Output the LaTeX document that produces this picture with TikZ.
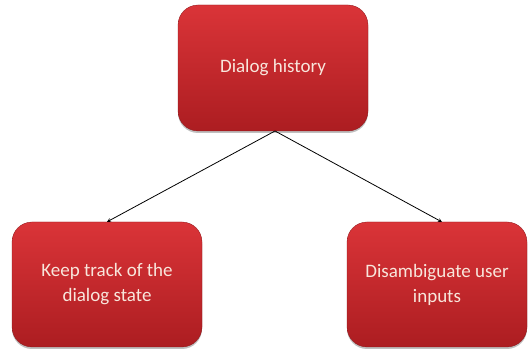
\documentclass[tikz,border=0pt]{standalone}
\usepackage{fontspec}
\setmainfont{Carlito}
\usetikzlibrary{shadows}
\definecolor{boxtop}{HTML}{DA3438}
\definecolor{boxbot}{HTML}{AC1D21}
\definecolor{boxtext}{HTML}{F8E6DC}
\tikzset{
  redbox/.style={rounded corners=20pt, top color=boxtop, bottom color=boxbot,
    draw=boxbot!80!black, line width=0.3pt, align=center, text=boxtext,
    font=\fontsize{19}{25}\selectfont, inner sep=0pt,
    drop shadow={shadow xshift=0pt, shadow yshift=-2pt, opacity=0.25, fill=black}},
  conn/.style={-stealth, line width=0.8pt, black}
}
\begin{document}
\begin{tikzpicture}[x=1pt,y=1pt]
\useasboundingbox (0,0) rectangle (530,350);
\node[redbox, minimum width=190pt, minimum height=126pt] (hist) at (273,282) {Dialog history};
\node[redbox, minimum width=190pt, minimum height=125pt] (keep) at (107,65.5) {Keep track of the\\dialog state};
\node[redbox, minimum width=180pt, minimum height=125pt] (dis) at (437,65.5) {Disambiguate user\\inputs};
\coordinate (apex) at (275,219);
\coordinate (dend) at (442,128);
\draw[conn] (apex) -- (keep.north);
\draw[conn] (apex) -- (dend);
\end{tikzpicture}
\end{document}
